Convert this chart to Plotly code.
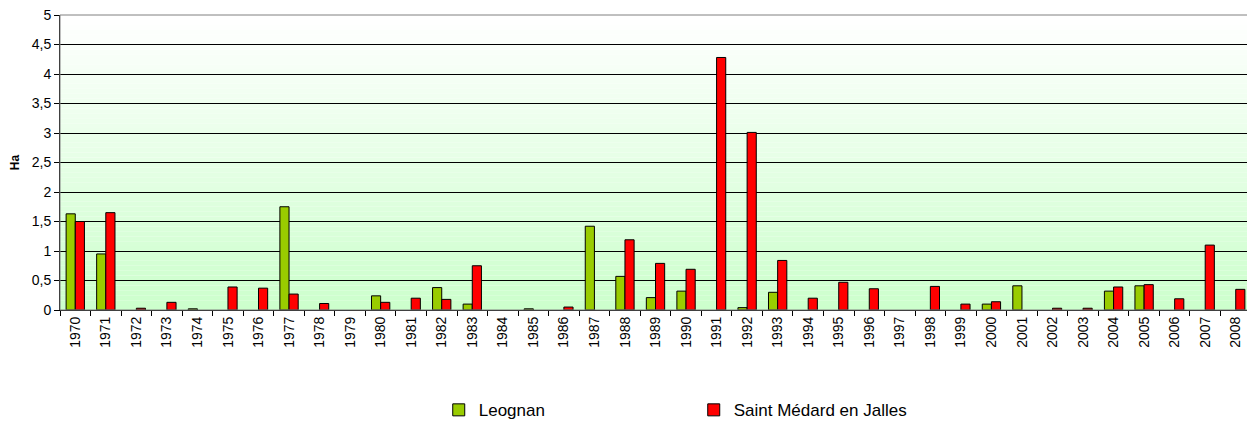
import plotly.graph_objects as go

years = [str(y) for y in range(1970, 2009)]

# None = no bar for that year
leognan = [
    1.63, 0.95, None, None, 0.02, None, None, 1.75, None, None,
    0.24, None, 0.38, 0.10, None, 0.02, None, 1.42, 0.57, 0.21,
    0.32, None, 0.04, 0.30, None, None, None, None, None, None,
    0.10, 0.41, None, None, 0.32, 0.41, None, None, None,
]

saint_medard = [
    1.50, 1.65, 0.03, 0.13, None, 0.39, 0.37, 0.27, 0.11, None,
    0.13, 0.20, 0.18, 0.75, None, None, 0.05, None, 1.19, 0.79,
    0.69, 4.28, 3.01, 0.84, 0.20, 0.47, 0.36, None, 0.40, 0.10,
    0.14, None, 0.03, 0.03, 0.39, 0.43, 0.19, 1.10, 0.35,
]

fig = go.Figure()
fig.add_trace(
    go.Bar(
        x=years, y=leognan, name="Leognan",
        marker=dict(color="#99CC00", line=dict(color="#000000", width=1)),
    )
)
fig.add_trace(
    go.Bar(
        x=years, y=saint_medard, name="Saint Médard en Jalles",
        marker=dict(color="#FF0000", line=dict(color="#000000", width=1)),
    )
)

# vertical gradient background: white at top to pale green at bottom
n_bands = 60
shapes = []
for i in range(n_bands):
    t = i / (n_bands - 1)
    c = round(255 + (204 - 255) * (1 - t))
    shapes.append(
        dict(
            type="rect", xref="x domain", yref="y domain",
            x0=0, x1=1, y0=i / n_bands, y1=(i + 1) / n_bands,
            fillcolor=f"rgb({c},255,{c})", line=dict(width=0), layer="below",
        )
    )
# plot area border
shapes.append(
    dict(
        type="rect", xref="x domain", yref="y domain", x0=0, x1=1, y0=0, y1=1,
        line=dict(color="#808080", width=1), fillcolor="rgba(0,0,0,0)", layer="above",
    )
)

# page body adds an 8px margin, so shift the figure to line up with the window
fig.update_layout(
    width=1247,
    height=424,
    margin=dict(l=52, r=4, t=7, b=120),
    paper_bgcolor="white",
    plot_bgcolor="white",
    font=dict(family="Liberation Sans, Arial, sans-serif", color="#000000", size=12),
    separators=",.",
    barmode="group",
    bargap=0.4,
    bargroupgap=0,
    shapes=shapes,
    showlegend=True,
    legend=dict(
        orientation="h", x=0.318, xanchor="left", y=-0.34, yanchor="middle",
        font=dict(size=17), entrywidth=210, entrywidthmode="pixels",
        itemclick=False,
    ),
    xaxis=dict(
        type="category",
        automargin=False,
        tickangle=-90,
        tickfont=dict(size=14),
        ticks="outside",
        tickson="boundaries",
        ticklen=5,
        tickcolor="#000000",
        showline=True,
        linecolor="#000000",
        showgrid=False,
    ),
    yaxis=dict(
        automargin=False,
        range=[0, 5],
        dtick=0.5,
        tickformat=",.1~f",
        tickfont=dict(size=14),
        ticklabeloverflow="allow",
        ticks="outside",
        ticklen=5,
        tickcolor="#000000",
        showline=True,
        linecolor="#000000",
        gridcolor="#000000",
        gridwidth=1,
        zeroline=False,
        title=dict(text="<b>Ha</b>", font=dict(size=12), standoff=10),
    ),
)

fig.write_html("out.html")
